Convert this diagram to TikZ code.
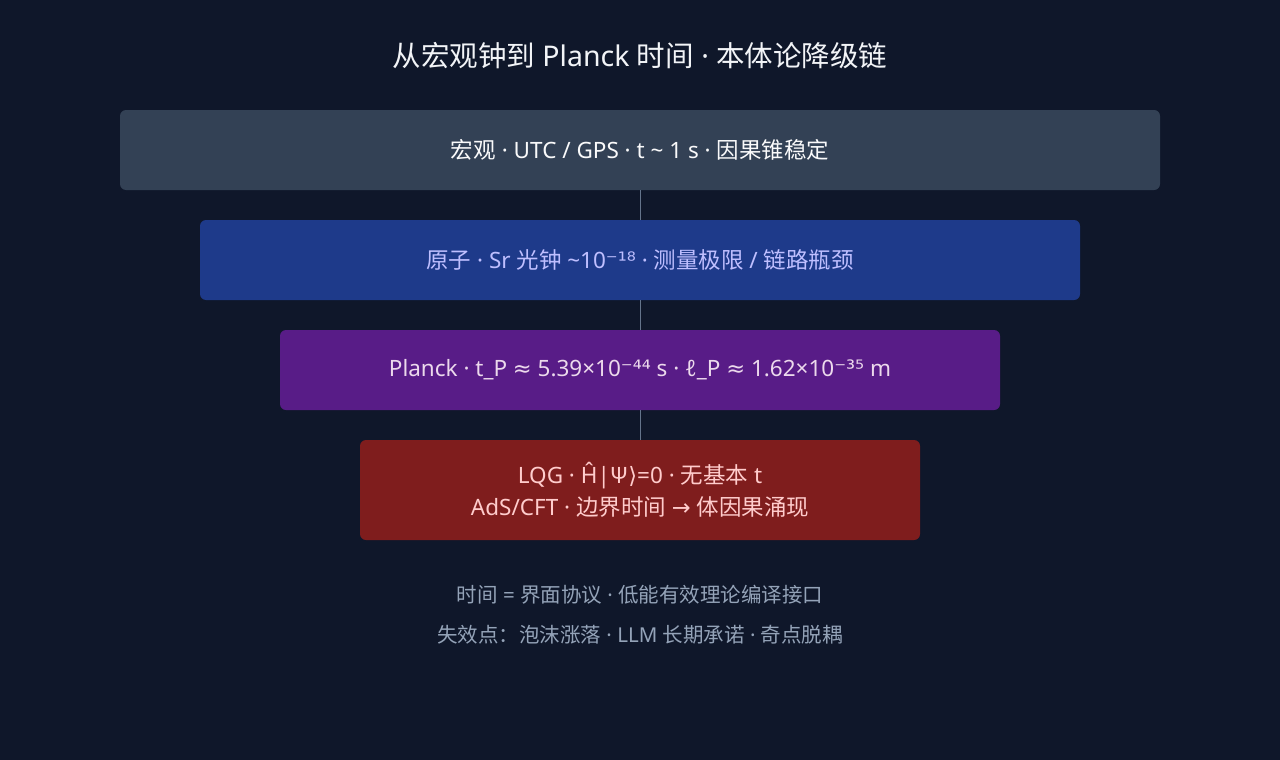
\documentclass[tikz,border=0pt]{standalone}
\usepackage{fontspec}
\setmainfont{Noto Sans}
\newfontfamily\cjk{Noto Sans CJK SC}
\newfontfamily\symfont{DejaVu Sans}
\usetikzlibrary{positioning}
\definecolor{bg}{HTML}{0F172A}
\definecolor{macro}{HTML}{334155}
\definecolor{atom}{HTML}{1E3A8A}
\definecolor{planck}{HTML}{581C87}
\definecolor{quant}{HTML}{7F1D1D}
\definecolor{link}{HTML}{64748B}
\definecolor{note}{HTML}{94A3B8}
\def\Sup#1{{\symfont #1}}
\def\C#1{{\cjk #1}}

\begin{document}
\begin{tikzpicture}[x=1pt,y=-1pt,% one unit = one pixel of the reference
			every node/.style={
				align=center,		% so that "\\" breaks lines
				inner sep=0pt,outer sep=0pt
			},
			level/.style={rectangle,rounded corners=6pt,minimum height=80pt,font=\fontsize{22.5}{32}\selectfont},
			note/.style={text=note,font=\fontsize{20.5}{22}\selectfont},
			node distance=30pt
		]
		\fill[bg] (0,0) rectangle (1280,760);
		\node[text=white!88!note,font=\fontsize{28.5}{30}\selectfont](T) at (640,56){\C{从宏观钟到} Planck \C{时间} · \C{本体论降级链}};
		\node[level,fill=macro,minimum width=1040pt,text=white!95!note](L1) at (640,150){\C{宏观} · UTC / GPS · t \textasciitilde{} 1 s · \C{因果锥稳定}};
		\node[level,fill=atom,minimum width=880pt,text=blue!25!white](L2)[below= of L1]{\C{原子} · Sr \C{光钟} \textasciitilde10\Sup{⁻¹⁸} · \C{测量极限} / \C{链路瓶颈}};
		\node[level,fill=planck,minimum width=720pt,text=violet!15!white](L3)[below= of L2]{Planck · t\_P \Sup{≈} 5.39×10\Sup{⁻⁴⁴} s · ℓ\_P \Sup{≈} 1.62×10\Sup{⁻³⁵} m};
		\node[level,fill=quant,minimum width=560pt,minimum height=100pt,text=red!20!white](L4)[below= of L3]{LQG · Ĥ|Ψ\Sup{⟩}=0 · \C{无基本} t\\AdS/CFT · \C{边界时间} \Sup{→} \C{体因果涌现}};
		\node[note](N1) at (640,595){\C{时间} = \C{界面协议} · \C{低能有效理论编译接口}};
		\node[note](N2) at (640,635){\C{失效点：泡沫涨落} · LLM \C{长期承诺} · \C{奇点脱耦}};
		\path[draw=link,thick]
		(L1)--(L2)
		(L2)--(L3)
		(L3)--(L4)
		;
	\end{tikzpicture}
\end{document}
